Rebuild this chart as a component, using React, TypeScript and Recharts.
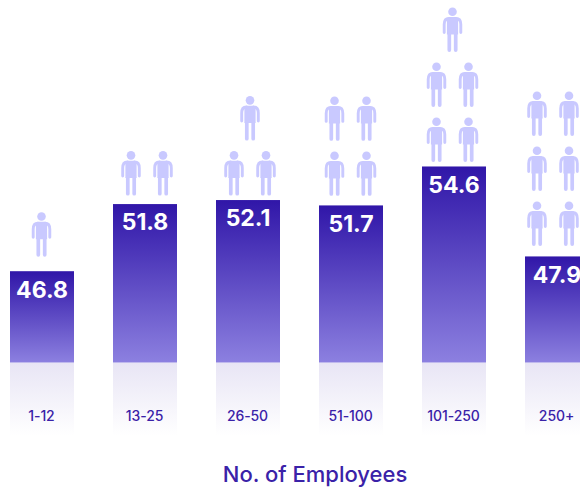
import { BarChart, Bar, XAxis, YAxis, LabelList } from "recharts";

const sizes = ["1-12", "13-25", "26-50", "51-100", "101-250", "250+"];
const scores = [46.8, 51.8, 52.1, 51.7, 54.6, 47.9];
const headcounts = [1, 2, 3, 4, 5, 6];

const data = sizes.map((size, i) => ({
  size,
  score: scores[i],
  people: headcounts[i],
}));

const INK = "#3a22a8";
const FIGURE = "#c9c9ff";
const FONT = "Inter, sans-serif";

// space left between the feet of the lowest row and the bar top
const footGaps = [14, 8, 4, 9, 4, 10];
// sideways shift of each group of figures from its bar centre
const figureShifts = [-0.5, 2, 2, -0.5, -1.5, -4];
const FIGURE_H = 45;
const ROW_STEP = 55;
const COL_STEP = 32;
const SHADOW_H = 73;

function Person({ cx, top }: { cx: number; top: number }) {
  return (
    <g transform={`translate(${cx} ${top})`} fill={FIGURE} stroke="none">
      <circle cx={0} cy={4.3} r={4.3} />
      <path d="M-3.6 9.6 H3.6 Q5.6 9.8 5.6 13 V27 H-5.6 V13 Q-5.6 9.8 -3.6 9.6 Z" />
      <g fill="none" stroke={FIGURE} strokeLinecap="round">
        <path strokeWidth={2.9} d="M-3.6 11 Q-8.3 11 -8.3 17 V25" />
        <path strokeWidth={2.9} d="M3.6 11 Q8.3 11 8.3 17 V25" />
        <path strokeWidth={3.7} d="M-3.2 26 V42.6" />
        <path strokeWidth={3.7} d="M3.2 26 V42.6" />
      </g>
    </g>
  );
}

function EmployeeBar(props: any) {
  const { x, y, width, height, index, people } = props;
  const cx = x + width / 2;
  const mid = cx + figureShifts[index];
  const base = y + height;
  const bottom = y - footGaps[index] - FIGURE_H;

  // figures stack in pairs from the bar upward, an odd one sits centred on top
  const figures = [];
  for (let n = 0; n < people; n++) {
    const row = Math.floor(n / 2);
    const single = n === people - 1 && people % 2 === 1;
    const fx = single ? mid : mid + (n % 2 === 0 ? -COL_STEP / 2 : COL_STEP / 2);
    figures.push(<Person key={n} cx={fx} top={bottom - row * ROW_STEP} />);
  }

  return (
    <g>
      <rect x={x} y={base} width={width} height={SHADOW_H} fill="url(#barShadow)" />
      <rect x={x} y={y} width={width} height={height} fill="url(#barFill)" />
      {figures}
    </g>
  );
}

export default function App() {
  return (
    <div
      style={{
        position: "absolute",
        left: 0,
        top: 0,
        width: 580,
        height: 489,
        overflow: "hidden",
        background: "#fff",
      }}
    >
      <div style={{ position: "absolute", left: -10, top: 0 }}>
        <BarChart
          width={618}
          height={489}
          data={data}
          margin={{ top: 0, right: 0, bottom: 0, left: 0 }}
        >
          <defs>
            <linearGradient id="barFill" x1="0" y1="0" x2="0" y2="1">
              <stop offset="0%" stopColor="#3016a8" />
              <stop offset="100%" stopColor="#8c80e0" />
            </linearGradient>
            <linearGradient id="barShadow" x1="0" y1="0" x2="0" y2="1">
              <stop offset="0%" stopColor="#e8e5f5" />
              <stop offset="100%" stopColor="#ffffff" />
            </linearGradient>
          </defs>
          <YAxis hide domain={[40, 67]} />
          <XAxis
            dataKey="size"
            height={126.5}
            axisLine={false}
            tickLine={false}
            tickMargin={43}
            interval={0}
            tick={{ fill: INK, fontSize: 14, fontFamily: FONT, fontWeight: 500, letterSpacing: -0.1 }}
            label={{
              value: "No. of Employees",
              position: "insideBottom",
              dx: 16,
              dy: -2,
              fill: INK,
              fontSize: 22,
              fontFamily: FONT,
              fontWeight: 500,
            }}
          />
          <Bar
            dataKey="score"
            barSize={64}
            isAnimationActive={false}
            shape={<EmployeeBar />}
          >
            <LabelList
              dataKey="score"
              position="insideTop"
              offset={10}
              fill="#fff"
              fontSize={23}
              fontFamily={FONT}
              fontWeight={700}
            />
          </Bar>
        </BarChart>
      </div>
    </div>
  );
}
